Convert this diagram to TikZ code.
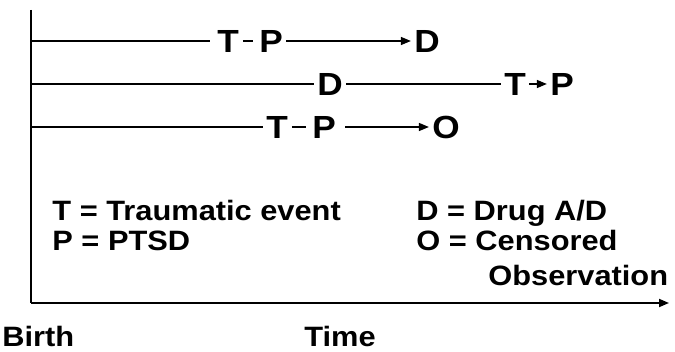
\documentclass[tikz,border=0pt]{standalone}
\usepackage{fontspec}
\setmainfont{Liberation Sans}[FakeStretch=1.1]
\usetikzlibrary{arrows.meta}

\begin{document}
\begin{tikzpicture}[x=0.5pt,y=-0.5pt,
    event/.style={inner sep=1.5pt, font=\fontsize{16}{18}\selectfont\bfseries},
    legendtext/.style={anchor=base west, inner sep=0pt, font=\fontsize{14}{16}\selectfont\bfseries},
    track/.style={line width=0.7pt},
    link/.style={track, shorten <=0.3pt, shorten >=1.5pt},
    arr/.style={track, -{Triangle[length=5pt,width=4pt]}},
    axis/.style={line width=0.9pt}]
    \useasboundingbox (0,0) rectangle (675,352);

    % axes
    \coordinate (top) at (31,10);
    \coordinate (origin) at (31,303);
    \coordinate (tend) at (669,303);
    \draw[axis] (top) -- (origin);
    \draw[axis, -{Triangle[length=5pt,width=4pt]}] (origin) -- (tend);

    % first history
    \coordinate (s1) at (31,41);
    \node[event] (t1) at (228,41) {T};
    \node[event] (p1) at (271,41) {P};
    \node[event] (d1) at (427,41) {D};
    \draw[track, shorten >=2pt] (s1) -- (t1);
    \draw[link] (t1) -- (p1);
    \draw[arr] (p1) -- (d1);

    % second history
    \coordinate (s2) at (31,84);
    \node[event] (d2) at (330,84) {D};
    \node[event] (t2) at (515,84) {T};
    \node[event] (p2) at (562,84) {P};
    \draw[track] (s2) -- (d2);
    \draw[track] (d2) -- (t2);
    \draw[arr] (t2) -- (p2);

    % third history
    \coordinate (s3) at (31,127);
    \node[event] (t3) at (277,127) {T};
    \node[event] (p3) at (324,127) {P};
    \node[event] (o3) at (446,127) {O};
    \draw[track] (s3) -- (t3);
    \draw[link] (t3) -- (p3);
    \draw[arr, shorten <=3pt] (p3) -- (o3);

    % legend
    \node[legendtext] (lt) at (52,221) {T = Traumatic event};
    \node[legendtext] (lp) at (52,251) {P = PTSD};
    \node[legendtext] (ld) at (416,221) {D = Drug A/D};
    \node[legendtext] (lo) at (416,251) {O = Censored};
    \node[legendtext] (lobs) at (488,286) {Observation};

    % axis labels
    \node[legendtext] (birth) at (2,347) {Birth};
    \node[legendtext] (time) at (304,347) {Time};
\end{tikzpicture}
\end{document}
